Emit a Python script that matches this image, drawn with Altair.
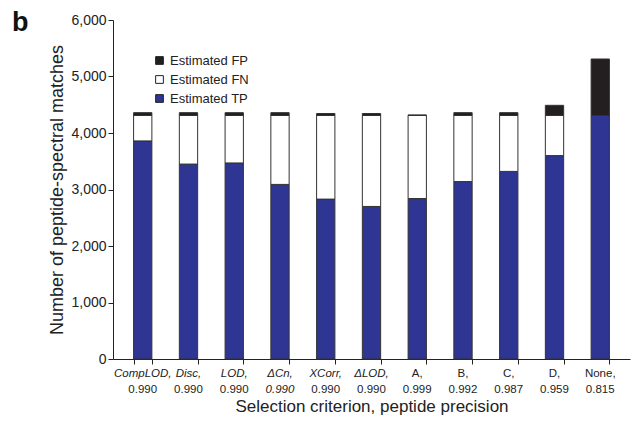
import altair as alt
import pandas as pd

categories = ["CompLOD", "Disc", "LOD", "ΔCn", "XCorr", "ΔLOD", "A", "B", "C", "D", "None"]
precision = ["0.990", "0.990", "0.990", "0.990", "0.990", "0.990", "0.999", "0.992", "0.987", "0.959", "0.815"]
italic_name = [True, True, True, True, True, True, False, False, False, False, False]
italic_prec = [False, False, False, True, False, False, False, False, False, False, False]
tp = [3860, 3450, 3470, 3090, 2830, 2700, 2840, 3140, 3320, 3600, 4310]
fn = [450, 860, 840, 1220, 1480, 1610, 1470, 1170, 990, 710, 0]
fp = [50, 50, 50, 50, 35, 35, 10, 50, 50, 180, 1000]

series = ["Estimated FP", "Estimated FN", "Estimated TP"]
colors = ["#231f20", "#ffffff", "#2e3592"]
FONT = "Liberation Sans"

rows = []
for i, c in enumerate(categories):
    rows.append({"cat": c, "series": "Estimated TP", "value": tp[i], "ord": 0})
    rows.append({"cat": c, "series": "Estimated FN", "value": fn[i], "ord": 1})
    rows.append({"cat": c, "series": "Estimated FP", "value": fp[i], "ord": 2})
df = pd.DataFrame(rows)

lab = pd.DataFrame({
    "cat": categories,
    "l1": [c + "," for c in categories],
    "l2": precision,
    "i1": italic_name,
    "i2": italic_prec,
})

xscale = alt.Scale(domain=categories, paddingInner=0.6, paddingOuter=0.45)
xenc = alt.X("cat:N", scale=xscale, sort=categories,
             axis=alt.Axis(labels=False, title="Selection criterion, peptide precision",
                           titleFont=FONT, titleFontSize=17, titleFontWeight="normal",
                           titleColor="#222", titlePadding=34, tickBand="extent",
                           tickColor="#222", domainColor="#222", tickSize=5))

bars = alt.Chart(df).mark_bar(stroke="#333333", strokeWidth=1).encode(
    x=xenc,
    y=alt.Y("value:Q", stack="zero", scale=alt.Scale(domain=[0, 6000]),
            axis=alt.Axis(values=[0, 1000, 2000, 3000, 4000, 5000, 6000], format=",d",
                          grid=False, title="Number of peptide-spectral matches",
                          titleFont=FONT, titleFontSize=18, titleFontWeight="normal",
                          titleColor="#222", titlePadding=4, labelFont=FONT,
                          labelFontSize=14, labelColor="#222", tickColor="#222",
                          domainColor="#222", tickSize=5)),
    color=alt.Color("series:N", scale=alt.Scale(domain=series, range=colors),
                    legend=alt.Legend(title=None, orient="none", legendX=40, legendY=34,
                                      symbolType="square", symbolSize=60,
                                      symbolStrokeColor="#222", symbolStrokeWidth=1,
                                      labelFont=FONT, labelFontSize=13, labelColor="#222",
                                      rowPadding=5, symbolOpacity=1)),
    order=alt.Order("ord:Q"),
)

def label_layer(field, flag, italic, dy):
    return alt.Chart(lab).transform_filter(
        alt.datum[flag] == italic
    ).mark_text(font=FONT, fontSize=11.5, color="#222", baseline="middle",
                fontStyle="italic" if italic else "normal").encode(
        x=alt.X("cat:N", scale=xscale, sort=categories),
        y=alt.value(339 + dy),
        text=f"{field}:N",
    )

labels = [label_layer("l1", "i1", True, 15), label_layer("l1", "i1", False, 15),
          label_layer("l2", "i2", True, 31), label_layer("l2", "i2", False, 31)]

panel = alt.Chart(pd.DataFrame({"t": ["b"]})).mark_text(
    font=FONT, fontSize=27, fontWeight="bold", color="#111", align="left", baseline="middle"
).encode(x=alt.value(-101), y=alt.value(3), text="t:N")

chart = alt.layer(bars, *labels, panel).properties(
    width=517, height=339,
    autosize=alt.AutoSizeParams(type="none"),
    padding={"left": 105, "top": 12, "right": 2, "bottom": 58},
).configure_view(stroke=None).configure_axis(labelFont=FONT)

chart.save("out.html", embed_options={"renderer": "svg", "actions": False})
